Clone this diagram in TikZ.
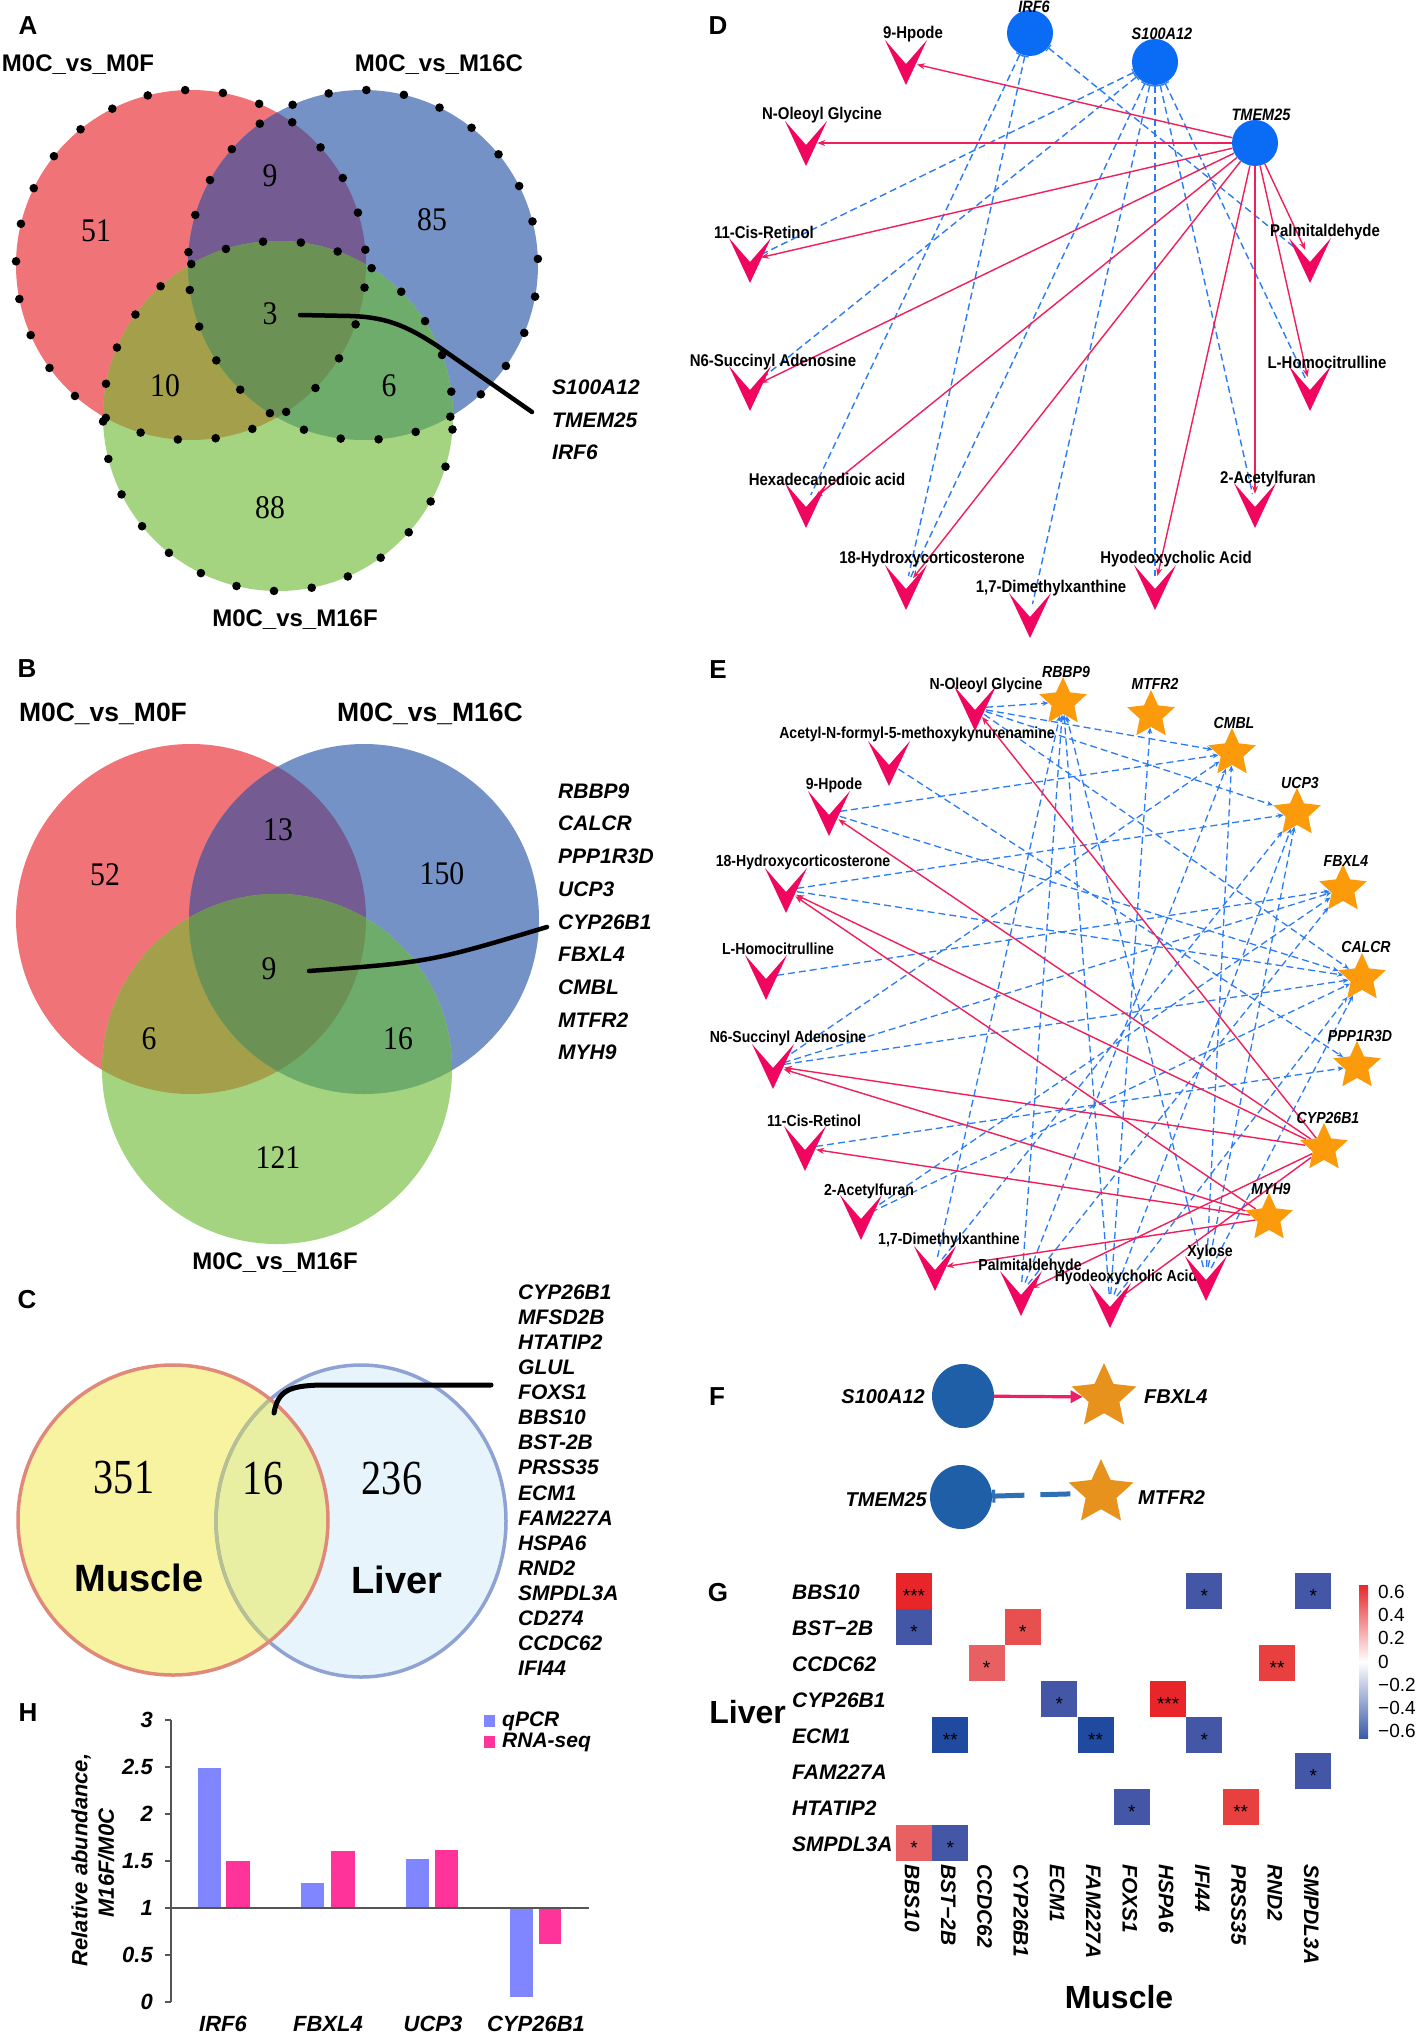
\documentclass[tikz,border=0pt]{standalone}
\usepackage{fontspec}
\usepackage{graphicx}
\setmainfont{Liberation Sans}
\newfontfamily\numfont{Liberation Serif}
\usetikzlibrary{shapes.geometric,arrows.meta}
\pgfdeclarelayer{bgwhite}
\pgfdeclarelayer{edgelayer}
\pgfsetlayers{bgwhite,edgelayer,main}
\newcommand{\fsz}[1]{\fontsize{#1}{#1}\selectfont}
\newcommand{\nar}[1]{\scalebox{0.88}[1]{#1}}
\newcommand{\narnum}[1]{\scalebox{0.9}[1]{#1}}
\newcommand{\narbig}[1]{\scalebox{0.82}[1]{#1}}
\definecolor{vred}{HTML}{F07378}
\definecolor{vblue}{HTML}{7592C6}
\definecolor{vgreen}{HTML}{A4D47F}
\definecolor{vrb}{HTML}{745B91}
\definecolor{vrg}{HTML}{A39F4B}
\definecolor{vbg}{HTML}{6EAC6C}
\definecolor{vrbg}{HTML}{6C9155}
\definecolor{mpink}{HTML}{F0065E}
\definecolor{edgepink}{HTML}{F01E5A}
\definecolor{dashblue}{HTML}{2A7BF5}
\definecolor{genecirc}{HTML}{0A6CF4}
\definecolor{starorange}{HTML}{FB9A0A}
\definecolor{fblue}{HTML}{1F5FA7}
\definecolor{forange}{HTML}{E8921E}
\definecolor{fpink}{HTML}{EE1F66}
\definecolor{fdash}{HTML}{2F6FB5}
\definecolor{musy}{HTML}{F8F3A0}
\definecolor{musline}{HTML}{E0887A}
\definecolor{livfill}{HTML}{E8F4FB}
\definecolor{livline}{HTML}{8EA3D3}
\definecolor{ovlap}{HTML}{E9EFA2}
\definecolor{ovline}{HTML}{B7C091}
\definecolor{hrA}{HTML}{E8262A}
\definecolor{hrB}{HTML}{E8403F}
\definecolor{hrM}{HTML}{E8504F}
\definecolor{hrC}{HTML}{E86062}
\definecolor{hbA}{HTML}{4457A6}
\definecolor{hbB}{HTML}{1F4A9F}
\definecolor{cbred}{HTML}{E8272B}
\definecolor{cbblue}{HTML}{3B5BA8}
\definecolor{qpcr}{HTML}{7F86FF}
\definecolor{rnaseq}{HTML}{FF3399}
\definecolor{axisgray}{HTML}{555555}
\newcommand{\metab}[7]{%
  \node[vhit] (#1) at (#2,#3) {};
  \fill[mpink,shift={(#2,#3)}] (-21,-22) -- (0,2) -- (21,-22) -- (0,23) -- cycle;
  \node[#7] (#1-lab) at (#4,#5) {\nar{#6}};
}
\begin{document}
\begin{tikzpicture}[x=1pt,y=-1pt,
 panel/.style={font=\fsz{26}\bfseries, inner sep=0pt},
 setA/.style={font=\fsz{24}\bfseries, inner sep=0pt},
 setB/.style={font=\fsz{26.5}\bfseries, inner sep=0pt},
 vnum/.style={font=\numfont\fsz{33}, inner sep=0pt},
 cnum/.style={font=\numfont\fsz{49}, inner sep=0pt},
 gl/.style={font=\fsz{21}\bfseries\itshape, inner sep=0pt, anchor=west},
 mlab/.style={font=\fsz{17}\bfseries, inner sep=0pt},
 mlabe/.style={font=\fsz{16}\bfseries, inner sep=0pt},
 glab/.style={font=\fsz{16.5}\bfseries\itshape, inner sep=0pt},
 glabe/.style={font=\fsz{16}\bfseries\itshape, inner sep=0pt},
 vhit/.style={circle, inner sep=0pt, minimum size=22pt},
 dgene/.style={circle, fill=genecirc, inner sep=0pt, minimum size=46pt},
 estar/.style={star, star points=5, star point ratio=2.1, fill=starorange, inner sep=0pt, minimum size=50pt},
 fstar/.style={star, star points=5, star point ratio=2.1, fill=forange, inner sep=0pt, minimum size=68pt},
 fcirc/.style={ellipse, fill=fblue, inner sep=0pt, minimum width=62pt, minimum height=64pt},
 pinkedge/.style={draw=edgepink, line width=1.4pt, -{Stealth[length=8pt,width=6pt]}},
 dashd/.style={draw=dashblue, line width=1.4pt, dash pattern=on 7pt off 4pt, {Bar[width=8pt,line width=1.2pt]}-},
 dashe/.style={draw=dashblue, line width=1.3pt, dash pattern=on 7pt off 4pt, -{Stealth[length=6pt,width=5pt]}},
 leader/.style={draw=black, line width=4.5pt, line cap=round},
 hm/.style={font=\fsz{21}\bfseries\itshape, inner sep=0pt},
 sig/.style={font=\fsz{19}, inner sep=0pt},
 cbl/.style={font=\fsz{19}, inner sep=0pt, anchor=west},
 hx/.style={font=\fsz{22}\bfseries\itshape, inner sep=0pt},
 bigword/.style={font=\fsz{38}\bfseries, inner sep=0pt},
]
\useasboundingbox (0,0) rectangle (1417,2036);
\begin{pgfonlayer}{bgwhite}
\fill[white] (0,0) rectangle (1417,2036);
\end{pgfonlayer}

%%%%%%%%%%%%%%%% Panel A
\node[panel] (lblA) at (28,26) {A};
\fill[vred] (191,265) circle[radius=175pt];
\fill[vblue] (363,265) circle[radius=175pt];
\fill[vgreen] (278,416) circle[radius=175pt];
\begin{scope}
 \clip (191,265) circle[radius=175pt];
 \fill[vrb] (363,265) circle[radius=175pt];
 \fill[vrg] (278,416) circle[radius=175pt];
\end{scope}
\begin{scope}
 \clip (363,265) circle[radius=175pt];
 \fill[vbg] (278,416) circle[radius=175pt];
\end{scope}
\begin{scope}
 \clip (191,265) circle[radius=175pt];
 \clip (363,265) circle[radius=175pt];
 \fill[vrbg] (278,416) circle[radius=175pt];
\end{scope}
\foreach \i in {0,...,28}{
 \fill[black] (191,265) ++(\i*360/29+5:175pt) circle[radius=4.3pt];
 \fill[black] (363,265) ++(\i*360/29+2:175pt) circle[radius=4.3pt];
 \fill[black] (278,416) ++(\i*360/29+8:175pt) circle[radius=4.3pt];
}
\node[setA] (a1) at (78,65) {M0C\_vs\_M0F};
\node[setA] (a2) at (439,65) {M0C\_vs\_M16C};
\node[setA] (a3) at (295,620) {M0C\_vs\_M16F};
\node[vnum] (an1) at (96,231) {\narnum{51}};
\node[vnum] (an2) at (270,176) {\narnum{9}};
\node[vnum] (an3) at (432,220) {\narnum{85}};
\node[vnum] (an4) at (270,314) {\narnum{3}};
\node[vnum] (an5) at (165,386) {\narnum{10}};
\node[vnum] (an6) at (389,386) {\narnum{6}};
\node[vnum] (an7) at (270,508) {\narnum{88}};
\coordinate (la1) at (300,315);
\coordinate (la2) at (532,412);
\draw[leader] (la1) -- (350,316) .. controls (385,317) and (405,325) .. (436,345) -- (la2);
\node[gl] (ag1) at (552,387) {S100A12};
\node[gl] (ag2) at (552,420) {TMEM25};
\node[gl] (ag3) at (552,452) {IRF6};

%%%%%%%%%%%%%%%% Panel B
\node[panel] (lblB) at (27,669) {B};
\fill[vred] (191,919) circle[radius=175pt];
\fill[vblue] (364,919) circle[radius=175pt];
\fill[vgreen] (277,1069) circle[radius=175pt];
\begin{scope}
 \clip (191,919) circle[radius=175pt];
 \fill[vrb] (364,919) circle[radius=175pt];
 \fill[vrg] (277,1069) circle[radius=175pt];
\end{scope}
\begin{scope}
 \clip (364,919) circle[radius=175pt];
 \fill[vbg] (277,1069) circle[radius=175pt];
\end{scope}
\begin{scope}
 \clip (191,919) circle[radius=175pt];
 \clip (364,919) circle[radius=175pt];
 \fill[vrbg] (277,1069) circle[radius=175pt];
\end{scope}
\node[setB] (b1) at (103,714) {M0C\_vs\_M0F};
\node[setB] (b2) at (430,714) {M0C\_vs\_M16C};
\node[setA] (b3) at (275,1263) {M0C\_vs\_M16F};
\node[vnum] (bn1) at (105,875) {\narnum{52}};
\node[vnum] (bn2) at (278,830) {\narnum{13}};
\node[vnum] (bn3) at (442,874) {\narnum{150}};
\node[vnum] (bn4) at (269,969) {\narnum{9}};
\node[vnum] (bn5) at (149,1039) {\narnum{6}};
\node[vnum] (bn6) at (398,1039) {\narnum{16}};
\node[vnum] (bn7) at (278,1158) {\narnum{121}};
\coordinate (lb1) at (309,971);
\coordinate (lb2) at (547,927);
\draw[leader] (lb1) .. controls (430,962) .. (lb2);
\foreach \t [count=\k] in {RBBP9,CALCR,PPP1R3D,UCP3,CYP26B1,FBXL4,CMBL,MTFR2,MYH9}{
 \node[gl] (bg\k) at (558,{791+32.7*(\k-1)}) {\t};
}

%%%%%%%%%%%%%%%% Panel C
\node[panel] (lblC) at (27,1300) {C};
\fill[livfill] (361,1521) ellipse[x radius=145pt, y radius=156pt];
\fill[musy] (173,1520) circle[radius=155pt];
\begin{scope}
 \clip (173,1520) circle[radius=155pt];
 \fill[ovlap] (361,1521) ellipse[x radius=145pt, y radius=156pt];
\end{scope}
\draw[livline, line width=3.5pt] (361,1521) ellipse[x radius=145pt, y radius=156pt];
\begin{scope}
 \clip (173,1520) circle[radius=155pt];
 \draw[ovline, line width=3.5pt] (361,1521) ellipse[x radius=145pt, y radius=156pt];
\end{scope}
\draw[musline, line width=3.5pt] (173,1520) circle[radius=155pt];
\node[cnum] (cn1) at (124,1477) {\narbig{351}};
\node[cnum] (cn2) at (263,1478) {\narbig{16}};
\node[cnum] (cn3) at (392,1478) {\narbig{236}};
\node[bigword] (cmus) at (139,1578) {Muscle};
\node[bigword] (cliv) at (397,1580) {Liver};
\coordinate (lc1) at (274,1413);
\coordinate (lc2) at (491,1385);
\draw[leader, line width=5pt] (lc1) .. controls (278,1390) and (290,1386) .. (320,1385) -- (lc2);
\foreach \t [count=\k] in {CYP26B1,MFSD2B,HTATIP2,GLUL,FOXS1,BBS10,BST-2B,PRSS35,ECM1,FAM227A,HSPA6,RND2,SMPDL3A,CD274,CCDC62,IFI44}{
 \node[gl] (cg\k) at (518,{1292+25.1*(\k-1)}) {\t};
}

%%%%%%%%%%%%%%%% Panel D
\node[panel] (lblD) at (718,26) {D};
\node[dgene] (dIRF) at (1030,33) {};
\node[glab] (dIRF-lab) at (1034,7) {\nar{IRF6}};
\node[dgene] (dS100) at (1155,62) {};
\node[glab] (dS100-lab) at (1162,34) {\nar{S100A12}};
\node[dgene] (dTMEM) at (1255,143) {};
\node[glab] (dTMEM-lab) at (1261,115) {\nar{TMEM25}};
\metab{dHP}{906}{62}{913}{34}{9-Hpode}{mlab}
\metab{dNOG}{806}{143}{822}{115}{N-Oleoyl Glycine}{mlab}
\metab{dCIS}{750}{260}{764}{232}{11-Cis-Retinol}{mlab}
\metab{dPAL}{1310}{260}{1325}{232}{Palmitaldehyde}{mlab}
\metab{dN6}{750}{388}{773}{362}{N6-Succinyl Adenosine}{mlab}
\metab{dLHC}{1310}{388}{1327}{362}{L-Homocitrulline}{mlab}
\metab{dHEX}{806}{505}{827}{479}{Hexadecanedioic acid}{mlab}
\metab{dACF}{1255}{505}{1268}{479}{2-Acetylfuran}{mlab}
\metab{dH18}{906}{587}{932}{559}{18-Hydroxycorticosterone}{mlab}
\metab{dHYO}{1155}{587}{1176}{559}{Hyodeoxycholic Acid}{mlab}
\metab{dDMX}{1030}{615}{1051}{588}{1,7-Dimethylxanthine}{mlab}
\begin{pgfonlayer}{edgelayer}
\foreach \m in {dN6,dCIS,dH18,dDMX,dHYO,dACF,dLHC}{\draw[dashd] (dS100) -- (\m);}
\foreach \m in {dHEX,dH18,dPAL}{\draw[dashd] (dIRF) -- (\m);}
\foreach \m in {dHP,dNOG,dCIS,dN6,dHEX,dH18,dHYO,dACF,dLHC,dPAL}{\draw[pinkedge] (dTMEM) -- (\m);}
\end{pgfonlayer}

%%%%%%%%%%%%%%%% Panel E
\node[panel] (lblE) at (718,670) {E};
\node[estar] (eRBBP9) at (1063,702) {};
\node[glabe] (eRBBP9-lab) at (1066,672) {\nar{RBBP9}};
\node[estar] (eMTFR2) at (1151,715) {};
\node[glabe] (eMTFR2-lab) at (1155,684) {\nar{MTFR2}};
\node[estar] (eCMBL) at (1232,753) {};
\node[glabe] (eCMBL-lab) at (1234,723) {\nar{CMBL}};
\node[estar] (eUCP3) at (1297,813) {};
\node[glabe] (eUCP3-lab) at (1300,783) {\nar{UCP3}};
\node[estar] (eFBXL4) at (1343,889) {};
\node[glabe] (eFBXL4-lab) at (1346,861) {\nar{FBXL4}};
\node[estar] (eCALCR) at (1362,978) {};
\node[glabe] (eCALCR-lab) at (1366,947) {\nar{CALCR}};
\node[estar] (ePPP) at (1357,1066) {};
\node[glabe] (ePPP-lab) at (1360,1036) {\nar{PPP1R3D}};
\node[estar] (eCYP) at (1324,1148) {};
\node[glabe] (eCYP-lab) at (1328,1118) {\nar{CYP26B1}};
\node[estar] (eMYH9) at (1269,1218) {};
\node[glabe] (eMYH9-lab) at (1271,1189) {\nar{MYH9}};
\metab{eNOG}{975}{708}{986}{685}{N-Oleoyl Glycine}{mlabe}
\metab{eACE}{889}{763}{917}{734}{Acetyl-N-formyl-5-methoxykynurenamine}{mlabe}
\metab{eHP}{829}{813}{834}{785}{9-Hpode}{mlabe}
\metab{eH18}{786}{890}{803}{862}{18-Hydroxycorticosterone}{mlabe}
\metab{eLHC}{766}{977}{778}{949}{L-Homocitrulline}{mlabe}
\metab{eN6}{773}{1066}{788}{1038}{N6-Succinyl Adenosine}{mlabe}
\metab{eCIS}{805}{1148}{814}{1121}{11-Cis-Retinol}{mlabe}
\metab{eACF}{861}{1217}{869}{1191}{2-Acetylfuran}{mlabe}
\metab{eDMX}{935}{1268}{949}{1240}{1,7-Dimethylxanthine}{mlabe}
\metab{ePAL}{1021}{1293}{1030}{1266}{Palmitaldehyde}{mlabe}
\metab{eHYO}{1110}{1305}{1126}{1277}{Hyodeoxycholic Acid}{mlabe}
\metab{eXYL}{1206}{1278}{1210}{1252}{Xylose}{mlabe}
\begin{pgfonlayer}{edgelayer}
\foreach \m/\s in {eNOG/eRBBP9,eNOG/eCMBL,eNOG/eUCP3,eNOG/eCALCR,eACE/ePPP,eHP/eCMBL,eHP/eCALCR,eH18/eUCP3,eH18/eCALCR,eLHC/eFBXL4,eN6/eCMBL,eN6/eFBXL4,eN6/eCALCR,eCIS/ePPP,eACF/eCALCR,eACF/eFBXL4,eDMX/eRBBP9,eDMX/eUCP3,ePAL/eRBBP9,ePAL/eCMBL,ePAL/eFBXL4,eHYO/eRBBP9,eHYO/eMTFR2,eHYO/eUCP3,eHYO/eCALCR,eXYL/eRBBP9,eXYL/eCMBL,eXYL/eUCP3,eXYL/eCALCR}{
 \draw[dashe] (\m) -- (\s);
}
\foreach \m in {eNOG,eHP,eH18,eN6,ePAL,eHYO}{\draw[pinkedge] (eCYP) -- (\m);}
\foreach \m in {eH18,eN6,eCIS,eDMX}{\draw[pinkedge] (eMYH9) -- (\m);}
\end{pgfonlayer}

%%%%%%%%%%%%%%%% Panel F
\node[panel] (lblF) at (717,1397) {F};
\node[fcirc] (fS100) at (963,1396) {};
\node[font=\fsz{20}\bfseries\itshape, inner sep=0pt, anchor=east] (fS100-lab) at (925,1397) {S100A12};
\node[fstar] (fFBXL4) at (1104,1397) {};
\node[font=\fsz{20}\bfseries\itshape, inner sep=0pt, anchor=west] (fFBXL4-lab) at (1144,1397) {FBXL4};
\node[fcirc] (fTMEM) at (961,1497) {};
\node[font=\fsz{20}\bfseries\itshape, inner sep=0pt, anchor=east] (fTMEM-lab) at (927,1500) {TMEM25};
\node[fstar] (fMTFR2) at (1101,1493) {};
\node[font=\fsz{20}\bfseries\itshape, inner sep=0pt, anchor=west] (fMTFR2-lab) at (1138,1497) {MTFR2};
\draw[fpink, line width=3.2pt, -{Triangle[length=12pt,width=12pt]}] (fS100) -- (fFBXL4);
\draw[fdash, line width=5pt, dash pattern=on 30pt off 16pt, {Bar[width=13pt,line width=3pt]}-] (fTMEM) -- (fMTFR2);

%%%%%%%%%%%%%%%% Panel G
\node[panel] (lblG) at (718,1593) {G};
\node[font=\fsz{32}\bfseries, inner sep=0pt, anchor=east] (gliver) at (786,1712) {Liver};
\node[font=\fsz{32}\bfseries, inner sep=0pt] (gmuscle) at (1119,1997) {Muscle};
\foreach \t [count=\r] in {BBS10,BST−2B,CCDC62,CYP26B1,ECM1,FAM227A,HTATIP2,SMPDL3A}{
 \node[hm, anchor=west] (rl\r) at (792,{1592+36*(\r-1)}) {\t};
}
\foreach \t [count=\c] in {BBS10,BST−2B,CCDC62,CYP26B1,ECM1,FAM227A,FOXS1,HSPA6,IFI44,PRSS35,RND2,SMPDL3A}{
 \node[hm, rotate=-90, anchor=west] (cl\c) at ({912+36.3*(\c-1)},1864) {\t};
}
\foreach \r/\c/\col/\s in {1/1/hrA/***,1/9/hbA/*,1/12/hbA/*,2/1/hbA/*,2/4/hrM/*,3/3/hrC/*,3/11/hrB/**,4/5/hbA/*,4/8/hrA/***,5/2/hbB/**,5/6/hbB/**,5/9/hbA/*,6/12/hbA/*,7/7/hbA/*,7/10/hrB/**,8/1/hrC/*,8/2/hbA/*}{
 \fill[\col] ({914+36.3*(\c-1)-18},{1591+36*(\r-1)-18}) rectangle +(36,36);
 \node[sig] (sg\r-\c) at ({914+36.3*(\c-1)},{1596+36*(\r-1)}) {\s};
}
\shade[top color=cbred, bottom color=cbblue, middle color=white] (1359,1585) rectangle (1368,1738);
\node[cbl] (cb1) at (1378,1592) {0.6};
\node[cbl] (cb2) at (1378,1615) {0.4};
\node[cbl] (cb3) at (1378,1638) {0.2};
\node[cbl] (cb4) at (1378,1662) {0};
\node[cbl] (cb5) at (1378,1685) {−0.2};
\node[cbl] (cb6) at (1378,1708) {−0.4};
\node[cbl] (cb7) at (1378,1731) {−0.6};

%%%%%%%%%%%%%%%% Panel H
\node[panel] (lblH) at (28,1713) {H};
\draw[axisgray, line width=1.2pt] (171,1720) -- (171,2002);
\foreach \v/\t in {0/0,0.5/0.5,1/1,1.5/1.5,2/2,2.5/2.5,3/3}{
 \draw[axisgray, line width=1.2pt] (165,{2002-94*\v}) -- (171,{2002-94*\v});
 \node[hx, anchor=east] (yt\t) at (153,{2002-94*\v}) {\t};
}
\fill[qpcr] (198,1908) rectangle (221,1768);
\fill[rnaseq] (226,1908) rectangle (250,1861);
\fill[qpcr] (301,1908) rectangle (324,1883);
\fill[rnaseq] (331,1908) rectangle (355,1851);
\fill[qpcr] (406,1908) rectangle (429,1859);
\fill[rnaseq] (435,1908) rectangle (458,1850);
\fill[qpcr] (510,1908) rectangle (533,1997);
\fill[rnaseq] (539,1908) rectangle (561,1944);
\draw[axisgray, line width=1.2pt] (171,1908) -- (589,1908);
\node[hx] (hx1) at (223,2024) {IRF6};
\node[hx] (hx2) at (328,2024) {FBXL4};
\node[hx] (hx3) at (433,2024) {UCP3};
\node[hx] (hx4) at (536,2024) {CYP26B1};
\fill[qpcr] (484,1715) rectangle (495,1727);
\fill[rnaseq] (484,1736) rectangle (495,1748);
\node[font=\fsz{21}\bfseries\itshape, inner sep=0pt, anchor=west] (lg1) at (502,1721) {qPCR};
\node[font=\fsz{21}\bfseries\itshape, inner sep=0pt, anchor=west] (lg2) at (502,1742) {RNA-seq};
\node[hx, rotate=90] (yt-a) at (81,1860) {Relative abundance,};
\node[hx, rotate=90] (yt-b) at (106,1863) {M16F/M0C};
\end{tikzpicture}
\end{document}
